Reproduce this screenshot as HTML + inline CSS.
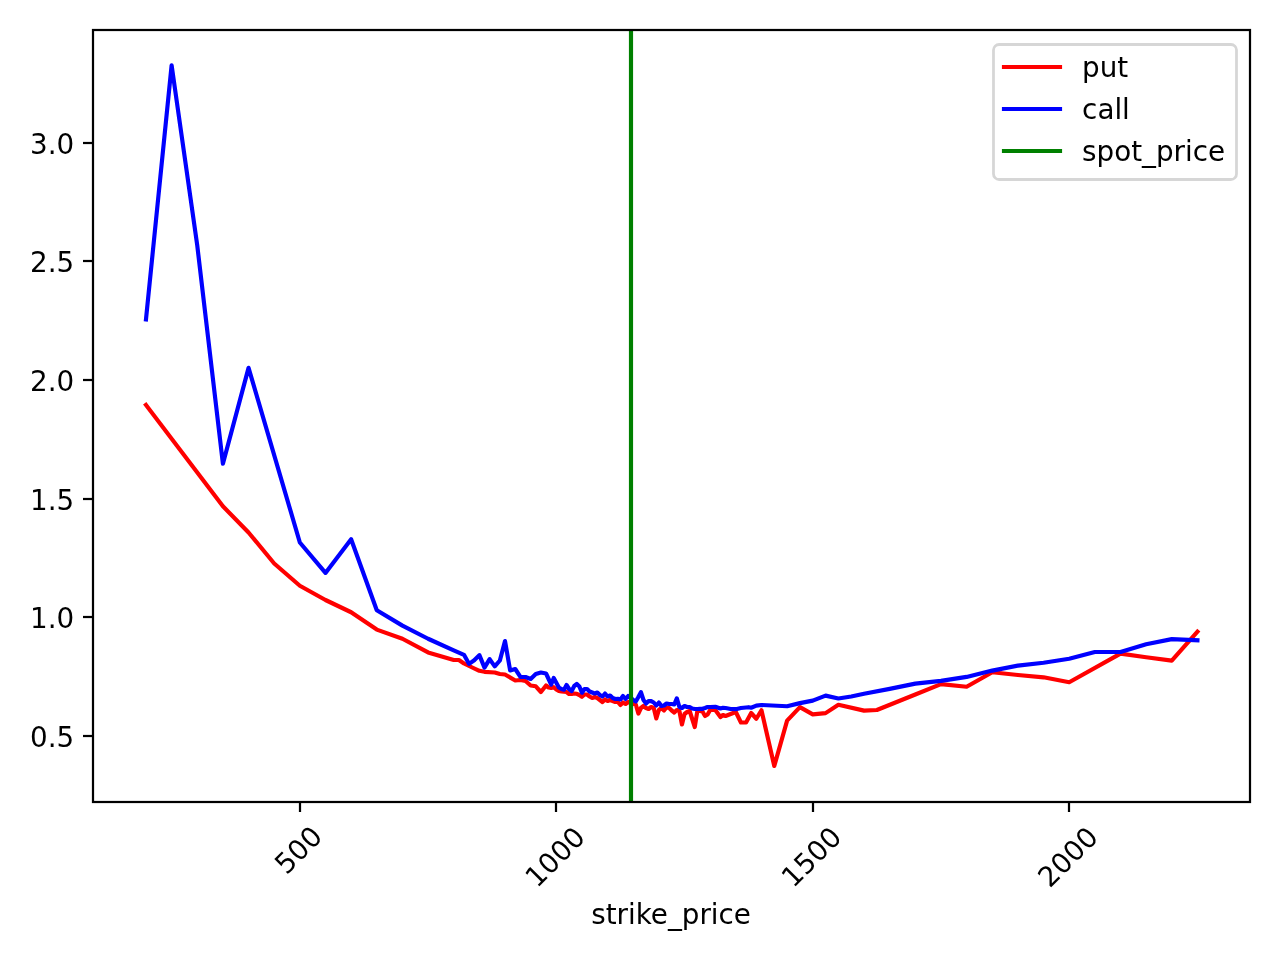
<!DOCTYPE html>
<html lang="en">
<head>
<meta charset="utf-8">
<title>strike_price chart</title>
<style>
html,body{margin:0;padding:0;background:#fff;}
body{width:1280px;height:960px;overflow:hidden;}
svg{display:block;}
svg text{font-family:"DejaVu Sans","Liberation Sans",sans-serif;font-size:27.78px;fill:#000;}
.sp{fill:none;stroke:#000;stroke-width:2.222;}
.tk{stroke:#000;stroke-width:2.222;fill:none;}
.ln{fill:none;stroke-width:4.167;stroke-linejoin:round;stroke-linecap:square;}
</style>
</head>
<body>
<svg width="1280" height="960" viewBox="0 0 1280 960">
<rect x="0" y="0" width="1280" height="960" fill="#ffffff"/>
<defs><clipPath id="axclip"><rect x="93.4" y="30" width="1156.6" height="771.8"/></clipPath></defs>
<g class="tk">
<line x1="300" y1="802" x2="300" y2="812"/>
<line x1="556" y1="802" x2="556" y2="812"/>
<line x1="813" y1="802" x2="813" y2="812"/>
<line x1="1069" y1="802" x2="1069" y2="812"/>
<line x1="83" y1="736" x2="93" y2="736"/>
<line x1="83" y1="617" x2="93" y2="617"/>
<line x1="83" y1="499" x2="93" y2="499"/>
<line x1="83" y1="380" x2="93" y2="380"/>
<line x1="83" y1="261" x2="93" y2="261"/>
<line x1="83" y1="143" x2="93" y2="143"/>
</g>
<g>
<text transform="translate(286.54 875.6) rotate(-45)">500</text>
<text transform="translate(536.9 888.7) rotate(-45)">1000</text>
<text transform="translate(793.35 888.7) rotate(-45)">1500</text>
<text transform="translate(1049.8 888.7) rotate(-45)">2000</text>
<text x="74.25" y="747" text-anchor="end">0.5</text>
<text x="74.25" y="628" text-anchor="end">1.0</text>
<text x="74.25" y="510" text-anchor="end">1.5</text>
<text x="74.25" y="391" text-anchor="end">2.0</text>
<text x="74.25" y="272" text-anchor="end">2.5</text>
<text x="74.25" y="154" text-anchor="end">3.0</text>
<text x="671.1" y="923.85" text-anchor="middle">strike_price</text>
</g>
<g clip-path="url(#axclip)">
<polyline class="ln" stroke="#ff0000" points="145.97,405 222.91,506.25 248.55,532.5 274.2,563.5 299.84,585.75 325.49,600 351.13,612.25 376.78,629.6 402.43,638.75 428.07,652.4 453.72,660 458.84,660 463.97,663.5 469.1,666 479.36,670.8 484.49,671.8 494.75,672.5 499.88,674 505.01,674.5 515.26,680.5 520.39,680 525.52,681 530.65,685.5 535.78,686.3 540.91,692 546.04,685.5 548.6,687.5 551.17,688 553.73,687.2 556.3,689.5 558.86,691 561.43,691.5 566.55,692 569.12,694 571.68,694 574.25,693.5 576.81,693.8 579.38,695 581.94,696.8 584.51,694.5 587.07,694.5 589.64,696.5 592.2,698 594.76,697 597.33,698 599.89,700 602.46,702 605.02,699.5 607.59,701 610.15,700 612.72,701 615.28,702 617.85,702 620.41,705 622.97,702.5 625.54,704 628.1,702 630.67,703 633.23,704 635.8,704.5 638.36,713.5 640.93,708 643.49,706 646.05,708 648.62,709 651.18,707 653.75,708 656.31,718.5 658.88,710 661.44,708 664.01,710.5 666.57,707.5 669.14,708 671.7,710.5 674.26,712.5 676.83,710 679.39,711 681.96,724.5 684.52,714 687.09,712 689.65,711 692.22,719 694.78,727 697.35,711 699.91,711 702.47,711.5 705.04,716 707.6,714.5 710.17,710 715.3,710 720.43,717 722.99,715 725.55,716 730.68,714 735.81,712 740.94,722.5 746.07,722.5 751.2,713 756.33,718.75 761.46,710.25 774.28,766 787.1,720.62 799.93,707.12 812.75,714.38 825.57,713.12 838.39,704.75 864.04,710.62 876.86,710 915.33,694.5 940.97,684.1 966.62,686.7 992.27,672.3 1017.91,675 1043.56,677.3 1069.2,682.2 1120.49,653.6 1146.14,657.2 1171.78,660.6 1197.43,631.7"/>
<polyline class="ln" stroke="#0000ff" points="145.97,319.5 171.62,65.3 197.26,245.5 222.91,463.7 248.55,367.85 299.84,542.5 325.49,572.9 351.13,539.2 376.78,610.2 402.43,625.6 428.07,638.75 453.72,650.4 463.97,654.8 469.1,663.9 474.23,660.3 479.36,655.1 484.49,667.6 489.62,659.1 494.75,666.4 499.88,660.5 505.01,641.1 510.14,670.5 515.26,669 520.39,676.8 525.52,677 530.65,679 535.78,674 540.91,672.5 546.04,673.5 551.17,684.5 553.73,678 558.86,687.5 561.43,689 563.99,689.7 566.55,685 569.12,689 571.68,691 574.25,686 576.81,684 579.38,686.5 581.94,692.7 584.51,689 587.07,689 589.64,691.5 592.2,692.5 594.76,693.5 597.33,692.5 599.89,695 602.46,696.5 605.02,693.5 607.59,696.5 610.15,695.5 612.72,698 615.28,699 617.85,698.8 620.41,699.5 622.97,696 625.54,699 628.1,696 630.67,698 633.23,700 635.8,701.5 638.36,697 640.93,692.1 643.49,700 646.05,703.5 648.62,701 651.18,701.2 653.75,702.5 656.31,705.5 658.88,702.5 661.44,706 664.01,705.5 666.57,703.5 669.14,704 671.7,704 674.26,704.5 676.83,698.4 679.39,707 681.96,708 684.52,706 687.09,707 689.65,707 692.22,708.5 694.78,709 697.35,709 699.91,708.8 702.47,708.8 705.04,708 707.6,707 710.17,707 715.3,706.8 720.43,708.5 722.99,707.8 725.55,708 730.68,709 735.81,709.2 740.94,708 748.64,707.2 751.2,707.75 756.33,705.62 761.46,705 787.1,706.25 799.93,703.12 812.75,700.62 825.57,695.62 838.39,698.5 851.22,696.5 864.04,693.75 889.68,688.9 915.33,683.6 940.97,680.9 966.62,676.9 992.27,670.6 1017.91,665.6 1043.56,662.7 1069.2,658.8 1094.85,652 1120.49,652 1146.14,644.2 1171.78,639.1 1197.43,640.3"/>
<line class="ln" stroke="#008000" x1="631" y1="25" x2="631" y2="806.8"/>
</g>
<rect class="sp" x="93" y="30" width="1157" height="772"/>
<rect x="993.5" y="44.5" width="243" height="135" rx="5.56" ry="5.56" fill="#ffffff" fill-opacity="0.8" stroke="#cccccc" stroke-opacity="0.8" stroke-width="2.778"/>
<line class="ln" stroke="#ff0000" x1="1004" y1="67" x2="1060" y2="67"/>
<text x="1082.12" y="76.9">put</text>
<line class="ln" stroke="#0000ff" x1="1004" y1="109" x2="1060" y2="109"/>
<text x="1082.12" y="118.9">call</text>
<line class="ln" stroke="#008000" x1="1004" y1="151" x2="1060" y2="151"/>
<text x="1082.12" y="160.9">spot_price</text>
</svg>
</body>
</html>
